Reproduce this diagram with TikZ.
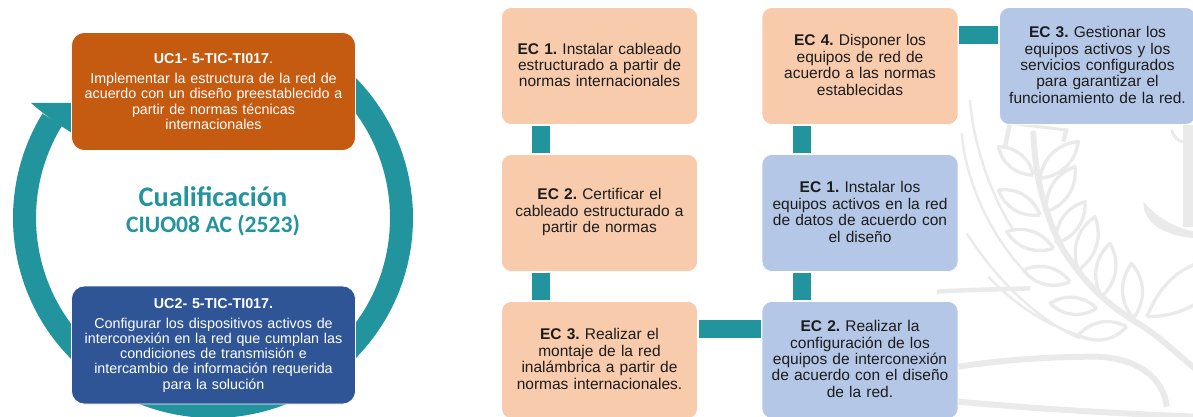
\documentclass[tikz,border=0pt]{standalone}
\usepackage{fontspec}
\setmainfont{Liberation Sans}
\newfontfamily\califont{Carlito}
\definecolor{teal1}{HTML}{21949E}
\definecolor{ucorange}{HTML}{C55A11}
\definecolor{ucblue}{HTML}{2F5597}
\definecolor{peach}{HTML}{F8CBAD}
\definecolor{lblue}{HTML}{B4C7E7}
\definecolor{wm}{HTML}{EAEAEA}
\definecolor{txt}{HTML}{1C1C1C}
\tikzset{
 ecbox/.style={rounded corners=10pt,inner sep=0pt,draw=white,line width=0.6pt,minimum width=196pt,minimum height=117pt,align=center,text=txt,
   font=\frenchspacing\fontsize{15.5}{16.4}\selectfont,text width=192pt,execute at end node={\par\vspace{2pt}}},
 ucbox/.style={rounded corners=13pt,inner sep=0pt,draw=white,line width=0.6pt,minimum width=284pt,minimum height=118pt,align=center,text=white,
   font=\frenchspacing\fontsize{14.3}{15.2}\selectfont,text width=280pt},
 peachbox/.style={ecbox,fill=peach},
 bluebox/.style={ecbox,fill=lblue},
 bar/.style={draw=teal1,line width=18pt},
 ringline/.style={draw=teal1,line width=23pt},
 wmline/.style={draw=wm,line width=3.3pt,line join=round},
 wmthin/.style={draw=wm,line width=2.4pt},
 titletext/.style={text=teal1,inner sep=0pt,align=center},
}
\newcommand{\wleaf}[2]{\draw[wmline] #1 to[bend left=38] #2 to[bend left=38] #1;}
\begin{document}
\begin{tikzpicture}[x=1pt,y=-1pt]
\useasboundingbox (0,0) rectangle (1193,417);
% watermark
\begin{scope}[shift={(930,100)},x=0.33333pt,y=-0.33333pt]
\draw[wm,line width=6pt,line cap=round] (310,100) .. controls (315,220) and (340,340) .. (400,450) .. controls (470,560) and (540,620) .. (640,680) .. controls (700,720) and (750,770) .. (800,810);
\wleaf{(330,235)}{(445,125)}
\wleaf{(350,335)}{(435,200)}
\wleaf{(378,430)}{(465,305)}
\wleaf{(445,510)}{(495,350)}
\wleaf{(515,590)}{(540,430)}
\wleaf{(610,655)}{(605,490)}
\wleaf{(310,225)}{(205,140)}
\wleaf{(330,345)}{(205,270)}
\wleaf{(370,445)}{(230,395)}
\wleaf{(420,545)}{(280,510)}
\wleaf{(500,625)}{(360,610)}
\wleaf{(590,680)}{(445,705)}
\draw[wmline] (650,650) .. controls (690,560) and (730,520) .. (800,490);
\draw[wmline] (650,650) .. controls (700,650) and (750,640) .. (800,610);
\draw[wmthin] (95,100) .. controls (110,270) and (200,430) .. (290,520);
\draw[wmthin] (120,0) .. controls (130,140) and (190,300) .. (250,390);
\draw[wmthin] (110,400) .. controls (180,510) and (300,650) .. (450,715);
\draw[wmthin] (175,530) .. controls (230,590) and (330,670) .. (445,705);
\draw[wm,line width=4.5pt] (240,70) -- (225,140);
\draw[wm,line width=4.5pt] (410,85) -- (400,125);
\draw[wm,line width=3pt] (240,70) -- (410,90);
\draw[wm,line width=4.5pt] (20,575) .. controls (100,570) and (200,568) .. (300,565);
\draw[wm,line width=6pt] (85,800) .. controls (250,775) and (400,770) .. (500,770) .. controls (620,775) and (700,830) .. (710,920);
\draw[wm,line width=6pt] (85,905) .. controls (300,925) and (550,940) .. (800,950);
\fill[wm] (640,305) .. controls (680,350) and (730,385) .. (800,395) -- (800,415) .. controls (720,410) and (640,380) .. (640,305) -- cycle;
\fill[wm] (758,75) rectangle (800,380);
\draw[wm,line width=3pt] (725,90) .. controls (730,110) and (745,125) .. (760,125);
\end{scope}
% ring
\coordinate (c) at (213,218);
\draw[ringline] ([shift={(48:188.5pt)}]c) arc[start angle=48,end angle=-211.5,radius=188.5pt];
\coordinate (h1) at (31,103);
\coordinate (h2) at (43,113);
\coordinate (h3) at (61,126);
\coordinate (h4) at (72,133);
\coordinate (h5) at (85,133);
\coordinate (h6) at (85,103);
\fill[teal1] (h1) -- (h2) -- (h3) -- (h4) -- (h5) -- (h6) -- cycle;
% UC boxes
\node[ucbox,fill=ucorange] (uc1) at (213.5,91.5) {{\bfseries UC1- 5-TIC-TI017}.\\[5pt]Implementar la estructura de la red de\\acuerdo con un diseño preestablecido a\\partir de normas técnicas\\internacionales};
\node[ucbox,fill=ucblue] (uc2) at (213.5,345) {{\bfseries UC2- 5-TIC-TI017.}\\[5pt]Configurar los dispositivos activos de\\interconexión en la red que cumplan las\\condiciones de transmisión e\\intercambio de información requerida\\para la solución};
\node[titletext,font=\califont\bfseries\fontsize{28.3}{30}\selectfont] (q1) at (213,197) {Cualificación};
\node[titletext,font=\califont\bfseries\fontsize{23.6}{25}\selectfont] (q2) at (213,226) {CIUO08 AC (2523)};
% EC boxes
\node[peachbox] (a1) at (599.5,66) {{\bfseries EC 1.} Instalar cableado\\estructurado a partir de\\normas internacionales};
\node[peachbox] (a2) at (599.5,213) {{\bfseries EC 2.} Certificar el\\cableado estructurado a\\partir de normas};
\node[peachbox] (a3) at (599.5,360) {{\bfseries EC 3.} Realizar el\\montaje de la red\\inalámbrica a partir de\\normas internacionales.};
\node[peachbox] (b4) at (860,66) {{\bfseries EC 4.} Disponer los\\equipos de red de\\acuerdo a las normas\\establecidas};
\node[bluebox] (b1) at (860,213) {{\bfseries EC 1.} Instalar los\\equipos activos en la red\\de datos de acuerdo con\\el diseño};
\node[bluebox] (b2) at (860,360) {{\bfseries EC 2.} Realizar la\\configuración de los\\equipos de interconexión\\de acuerdo con el diseño\\de la red.};
\node[bluebox] (b3) at (1097.5,66) {{\bfseries EC 3.} Gestionar los\\equipos activos y los\\servicios configurados\\para garantizar el\\funcionamiento de la red.};
% connectors
\draw[bar,shorten <=1pt,shorten >=1pt] ([xshift=-58.5pt]a1.south) -- ([xshift=-58.5pt]a2.north);
\draw[bar,shorten <=1pt,shorten >=1pt] ([xshift=-58.5pt]a2.south) -- ([xshift=-58.5pt]a3.north);
\draw[bar,shorten <=1pt,shorten >=1pt] ([yshift=31pt]a3.east) -- ([yshift=31pt]b2.west);
\draw[bar,shorten <=1pt,shorten >=1pt] ([xshift=-58.5pt]b2.north) -- ([xshift=-58.5pt]b1.south);
\draw[bar,shorten <=1pt,shorten >=1pt] ([xshift=-58.5pt]b1.north) -- ([xshift=-58.5pt]b4.south);
\draw[bar,shorten <=1pt,shorten >=1pt] ([yshift=31pt]b4.east) -- ([yshift=31pt]b3.west);
\end{tikzpicture}
\end{document}
